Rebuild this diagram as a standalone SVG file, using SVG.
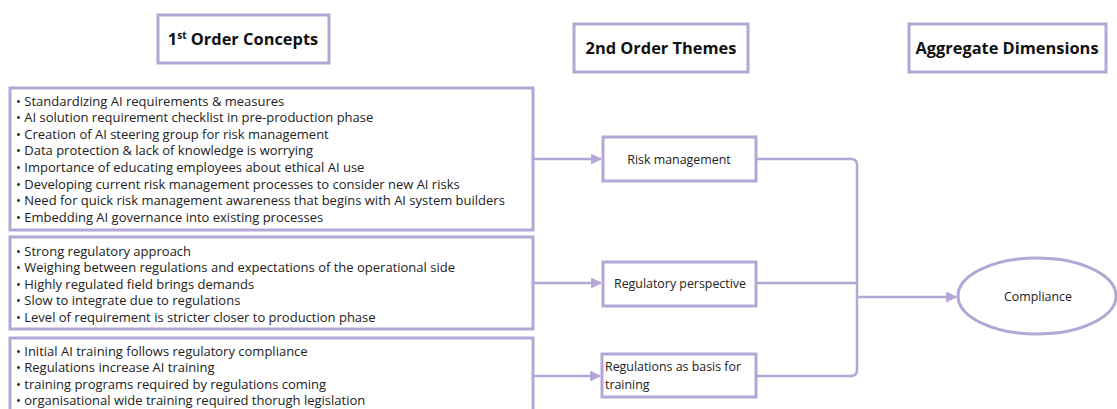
<svg xmlns="http://www.w3.org/2000/svg" width="1117" height="409" viewBox="0 0 1117 409">
  <style>
    .box { fill: #ffffff; stroke: #b4a7d6; stroke-width: 3; }
    .link { fill: none; stroke: #b4a7d6; stroke-width: 2.5; stroke-linejoin: round; }
    .head { font-family: "Open Sans", "Liberation Sans", sans-serif; font-weight: 700; font-size: 16.4px; fill: #111111; }
    .item { font-family: "Open Sans", "Liberation Sans", sans-serif; font-size: 13px; fill: #222222; }
    .label { font-family: "Open Sans", "Liberation Sans", sans-serif; font-size: 12.4px; fill: #222222; }
  </style>
  <defs>
    <marker id="arrow" viewBox="0 0 10 10" refX="9" refY="5" markerWidth="4.4" markerHeight="4.4" orient="auto" markerUnits="strokeWidth">
      <path d="M0,0 L10,5 L0,10 z" fill="#b4a7d6"/>
    </marker>
  </defs>

  <rect width="1117" height="409" fill="#ffffff"/>

  <!-- column headings -->
  <g id="head-first">
    <rect class="box" x="158" y="15" width="171" height="48"/>
    <text class="head" x="243" y="45" text-anchor="middle">1<tspan font-size="10" dy="-6">st</tspan><tspan dy="6"> Order Concepts</tspan></text>
  </g>
  <g id="head-second">
    <rect class="box" x="574" y="24" width="174" height="48"/>
    <text class="head" x="661" y="54" text-anchor="middle">2nd Order Themes</text>
  </g>
  <g id="head-aggregate">
    <rect class="box" x="909" y="24" width="197" height="48"/>
    <text class="head" x="1007" y="54" text-anchor="middle">Aggregate Dimensions</text>
  </g>

  <!-- connectors -->
  <g id="connectors">
    <path class="link" d="M533,159 H601" marker-end="url(#arrow)"/>
    <path class="link" d="M533,283 H601" marker-end="url(#arrow)"/>
    <path class="link" d="M533,376 H600" marker-end="url(#arrow)"/>
    <path class="link" d="M756,159 H851 Q857,159 857,165 V370 Q857,376 851,376 H756"/>
    <path class="link" d="M756,283 H857"/>
    <path class="link" d="M857,297 H956" marker-end="url(#arrow)"/>
  </g>

  <!-- first order concepts -->
  <g id="concepts-risk">
    <rect class="box" x="10" y="88" width="523" height="142"/>
    <text class="item" x="16" y="105.5">
      <tspan x="16">• Standardizing AI requirements &amp; measures</tspan>
      <tspan x="16" dy="16.6">• AI solution requirement checklist in pre-production phase</tspan>
      <tspan x="16" dy="16.6">• Creation of AI steering group for risk management</tspan>
      <tspan x="16" dy="16.6">• Data protection &amp; lack of knowledge is worrying</tspan>
      <tspan x="16" dy="16.6">• Importance of educating employees about ethical AI use</tspan>
      <tspan x="16" dy="16.6">• Developing current risk management processes to consider new AI risks</tspan>
      <tspan x="16" dy="16.6">• Need for quick risk management awareness that begins with AI system builders</tspan>
      <tspan x="16" dy="16.6">• Embedding AI governance into existing processes</tspan>
    </text>
  </g>
  <g id="concepts-regulatory">
    <rect class="box" x="10" y="237" width="523" height="92"/>
    <text class="item" x="16" y="255.5">
      <tspan x="16">• Strong regulatory approach</tspan>
      <tspan x="16" dy="16.5">• Weighing between regulations and expectations of the operational side</tspan>
      <tspan x="16" dy="16.5">• Highly regulated field brings demands</tspan>
      <tspan x="16" dy="16.5">• Slow to integrate due to regulations</tspan>
      <tspan x="16" dy="16.5">• Level of requirement is stricter closer to production phase</tspan>
    </text>
  </g>
  <g id="concepts-training">
    <rect class="box" x="10" y="338" width="523" height="80"/>
    <text class="item" x="16" y="355.5">
      <tspan x="16">• Initial AI training follows regulatory compliance</tspan>
      <tspan x="16" dy="16.5">• Regulations increase AI training</tspan>
      <tspan x="16" dy="16.5">• training programs required by regulations coming</tspan>
      <tspan x="16" dy="16.5">• organisational wide training required thorugh legislation</tspan>
    </text>
  </g>

  <!-- second order themes -->
  <g id="theme-risk">
    <rect class="box" x="603" y="137" width="153" height="44"/>
    <text class="label" x="679" y="164" text-anchor="middle">Risk management</text>
  </g>
  <g id="theme-regulatory">
    <rect class="box" x="603" y="262" width="153" height="44"/>
    <text class="label" x="680" y="288" text-anchor="middle">Regulatory perspective</text>
  </g>
  <g id="theme-training">
    <rect class="box" x="602" y="354" width="154" height="43"/>
    <text class="label" x="605" y="371">Regulations as basis for</text>
    <text class="label" x="605" y="389">training</text>
  </g>

  <!-- aggregate dimension -->
  <g id="dim-compliance">
    <ellipse class="box" cx="1037" cy="296" rx="79" ry="38"/>
    <text class="label" x="1038" y="301" text-anchor="middle">Compliance</text>
  </g>
</svg>
